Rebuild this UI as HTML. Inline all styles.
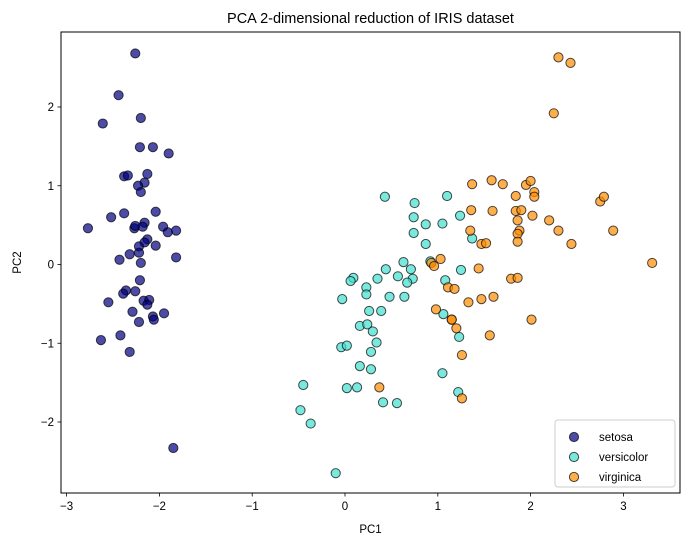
<!DOCTYPE html>
<html><head><meta charset="utf-8">
<style>
body{margin:0;background:#fff;}
svg{display:block;font-family:"Liberation Sans","DejaVu Sans",sans-serif;}
</style></head>
<body>
<svg id="chart" width="689" height="547" viewBox="0 0 689 547"></svg>
<script>
const categories = ["setosa","versicolor","virginica"];
const colors = ["navy","turquoise","darkorange"];
const setosaX = [-2.26,-2.44,-2.61,-2.20,-2.21,-2.07,-1.90,-2.38,-2.34,-2.13,-2.16,-2.23,-2.20,-2.52,-2.38,-2.04,-2.77,-2.27,-2.26,-2.16,-2.18,-1.96,-1.91,-1.82,-2.13,-2.16,-2.22,-2.04,-2.32,-2.22,-2.43,-2.20,-1.82,-2.21,-2.36,-2.39,-2.26,-2.55,-2.17,-2.11,-2.13,-2.29,-1.95,-2.07,-2.06,-2.22,-2.42,-2.63,-2.32,-1.85];
const setosaY = [2.68,2.15,1.79,1.86,1.49,1.49,1.41,1.12,1.13,1.15,1.04,1.00,0.92,0.60,0.65,0.67,0.46,0.46,0.49,0.53,0.48,0.48,0.41,0.43,0.32,0.28,0.23,0.24,0.13,0.15,0.06,0.02,0.09,-0.20,-0.33,-0.37,-0.34,-0.48,-0.46,-0.45,-0.51,-0.60,-0.62,-0.66,-0.70,-0.73,-0.90,-0.96,-1.11,-2.33];
const versicolorX = [0.43,0.75,1.10,0.74,0.87,1.05,1.24,0.74,1.37,0.87,0.63,0.71,0.44,0.57,0.73,0.67,0.09,0.06,0.35,0.23,0.23,-0.03,0.48,0.64,0.26,0.39,0.92,1.08,1.25,1.06,1.23,0.16,0.24,0.30,0.34,-0.04,0.02,0.28,0.16,0.28,-0.45,0.02,0.13,0.41,0.56,1.05,1.22,-0.48,-0.37,-0.10];
const versicolorY = [0.86,0.78,0.87,0.60,0.51,0.52,0.62,0.40,0.33,0.26,0.03,-0.06,-0.06,-0.15,-0.18,-0.23,-0.17,-0.21,-0.18,-0.29,-0.38,-0.44,-0.41,-0.41,-0.59,-0.59,0.04,-0.20,-0.07,-0.63,-0.92,-0.78,-0.76,-0.85,-0.99,-1.05,-1.03,-1.11,-1.29,-1.33,-1.53,-1.57,-1.56,-1.75,-1.76,-1.38,-1.62,-1.85,-2.02,-2.65];
const virginicaX = [2.30,2.43,2.25,1.37,1.58,1.70,1.95,2.00,2.04,2.04,1.84,2.75,2.79,1.36,1.59,1.84,1.90,2.02,2.20,1.86,1.35,2.30,2.89,1.88,1.86,1.86,1.47,1.52,2.44,1.03,0.93,0.96,1.44,3.31,1.79,1.86,1.11,1.18,1.33,1.47,1.60,0.98,1.15,1.15,1.20,2.01,1.56,1.26,1.26,0.37];
const virginicaY = [2.63,2.56,1.92,1.02,1.07,1.02,1.01,1.06,0.92,0.86,0.87,0.80,0.86,0.69,0.68,0.68,0.69,0.62,0.56,0.56,0.43,0.43,0.43,0.43,0.39,0.29,0.26,0.27,0.26,0.07,0.02,-0.02,-0.05,0.02,-0.18,-0.17,-0.29,-0.31,-0.48,-0.44,-0.41,-0.57,-0.70,-0.70,-0.81,-0.70,-0.90,-1.15,-1.70,-1.56];
const xTicks = [-3,-2,-1,0,1,2,3];
const yTicks = [-2,-1,0,1,2];

const NS="http://www.w3.org/2000/svg";
const svg=document.getElementById('chart');
const L=61,R=680,T=32,B=493;
function sx(v){return 345+v*92.8;}
function sy(v){return 264.5-v*78.75;}
function mk(tag,attrs,parent){const e=document.createElementNS(NS,tag);for(const k in attrs)e.setAttribute(k,attrs[k]);(parent||svg).appendChild(e);return e;}

const title=mk('text',{x:(L+R)/2,y:23,'text-anchor':'middle','font-size':'14.5',fill:'#000'});
title.textContent='PCA 2-dimensional reduction of IRIS dataset';



const series=[[setosaX,setosaY],[versicolorX,versicolorY],[virginicaX,virginicaY]];
series.forEach((s,i)=>{
  const g=mk('g',{});
  
  
  s[0].forEach((xv,j)=>{
    const c=mk('circle',{cx:sx(xv),cy:sy(s[1][j]),r:4.6,fill:colors[i],'fill-opacity':0.7,stroke:'#000','stroke-opacity':0.7,'stroke-width':1},g);
    
    
  });
});

const frame=mk('rect',{x:L,y:T,width:R-L,height:B-T,fill:'none',stroke:'#000','stroke-width':1});



xTicks.forEach(t=>{
  const x=sx(t);
  const tk=mk('line',{x1:x,x2:x,y1:B,y2:B+3.5,stroke:'#000','stroke-width':0.8});
  
  
  const lb=mk('text',{x:x,y:B+17,'text-anchor':'middle','font-size':'11.5',fill:'#000'});
  lb.textContent=t<0?'\u2212'+(-t):String(t);
  
  
});
yTicks.forEach(t=>{
  const y=sy(t);
  const tk=mk('line',{x1:L-3.5,x2:L,y1:y,y2:y,stroke:'#000','stroke-width':0.8});
  
  
  const lb=mk('text',{x:L-7,y:y+4,'text-anchor':'end','font-size':'11.5',fill:'#000'});
  lb.textContent=t<0?'\u2212'+(-t):String(t);
  
  
});

const xt=mk('text',{x:(L+R)/2,y:533,'text-anchor':'middle','font-size':'11.5',fill:'#000'});
xt.textContent='PC1';


const yt=mk('text',{x:21,y:(T+B)/2,'text-anchor':'middle','font-size':'11.5',fill:'#000',transform:'rotate(-90 21 '+((T+B)/2)+')'});
yt.textContent='PC2';



const lg=mk('g',{});


mk('rect',{x:555,y:420,width:120,height:67,rx:3,fill:'#fff','fill-opacity':0.8,stroke:'#ccc'},lg);
categories.forEach((c,i)=>{
  const y=437+i*20;
  const m=mk('circle',{cx:574,cy:y,r:4.6,fill:colors[i],'fill-opacity':0.7,stroke:'#000','stroke-opacity':0.7},lg);
  
  
  const t=mk('text',{x:599,y:y+4,'font-size':'11.5',fill:'#000'},lg);
  t.textContent=c;
  
  
});
</script>
</body></html>
